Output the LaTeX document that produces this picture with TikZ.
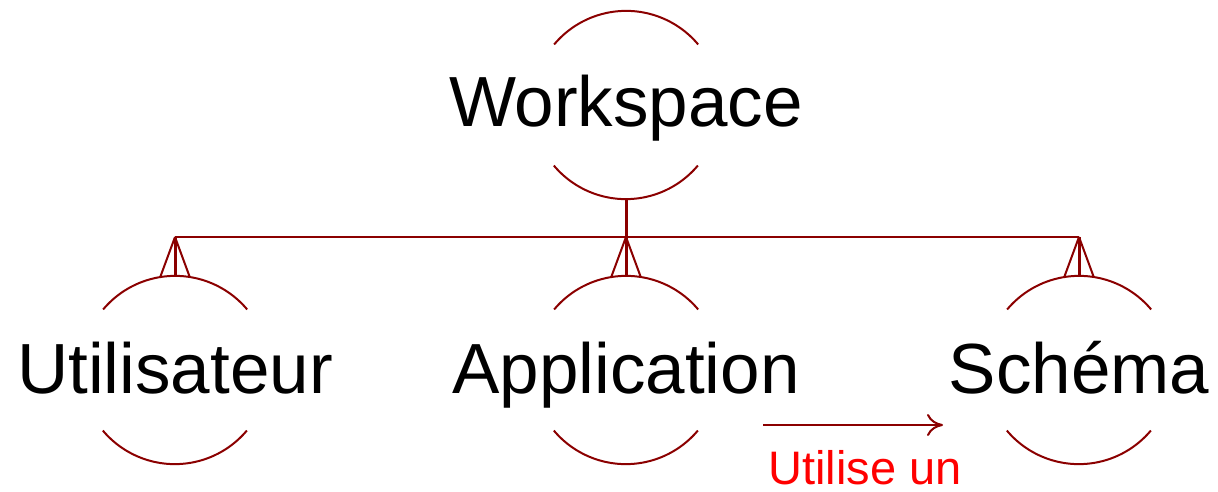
\documentclass[tikz,border=0pt]{standalone}
\usepackage{fontspec}
\setmainfont{Liberation Sans}
\usetikzlibrary{arrows.meta}
\definecolor{erdred}{RGB}{139,0,0}
\begin{document}
\begin{tikzpicture}[x=1pt,y=-1pt,
  ent/.style={circle,minimum size=188pt,inner sep=0pt},
  lbl/.style={anchor=base,inner sep=0pt,font=\fontsize{71}{80}\selectfont},
  rel/.style={draw=erdred,line width=2pt},
  arcline/.style={draw=erdred,line width=2pt},
  rellabel/.style={anchor=base,inner sep=0pt,text=red,font=\fontsize{47}{54}\selectfont}]
\useasboundingbox (0,0) rectangle (1218,492);
% entity circles (invisible) and labels
\node[ent] (ws) at (626,105) {};
\node[ent] (ut) at (175,370) {};
\node[ent] (ap) at (626,370) {};
\node[ent] (sc) at (1079,370) {};
\node[lbl] (wst) at (626,127) {Workspace};
\node[lbl] (utt) at (175,393) {Utilisateur};
\node[lbl] (apt) at (626,393) {Application};
\node[lbl] (sct) at (1079,393) {Schéma};
% arcs
\foreach \n in {ws,ut,ap,sc}{
  \draw[arcline] (\n.40) arc[start angle=40,end angle=140,radius=94pt];
  \draw[arcline] (\n.220) arc[start angle=220,end angle=320,radius=94pt];
}
% hierarchy
\coordinate (wsj) at (626,237);
\coordinate (utj) at (175,237);
\coordinate (apj) at (626,237);
\coordinate (scj) at (1079,237);
\draw[rel,line width=3pt] (ws.south) -- (wsj);
\draw[rel] (utj) -- (scj);
\foreach \n in {ut,ap,sc}{
  \draw[rel] (\n j) -- (\n.81);
  \draw[rel,line width=3pt] (\n j) -- (\n.north);
  \draw[rel] (\n j) -- (\n.99);
}
% relation arrow
\coordinate (ra) at (763,425);
\coordinate (rb) at (943,425);
\draw[rel,-{To[length=16pt,width=22pt,line width=2pt]}] (ra) -- (rb);
\node[rellabel] (rl) at (865,484) {Utilise un};
\end{tikzpicture}
\end{document}
